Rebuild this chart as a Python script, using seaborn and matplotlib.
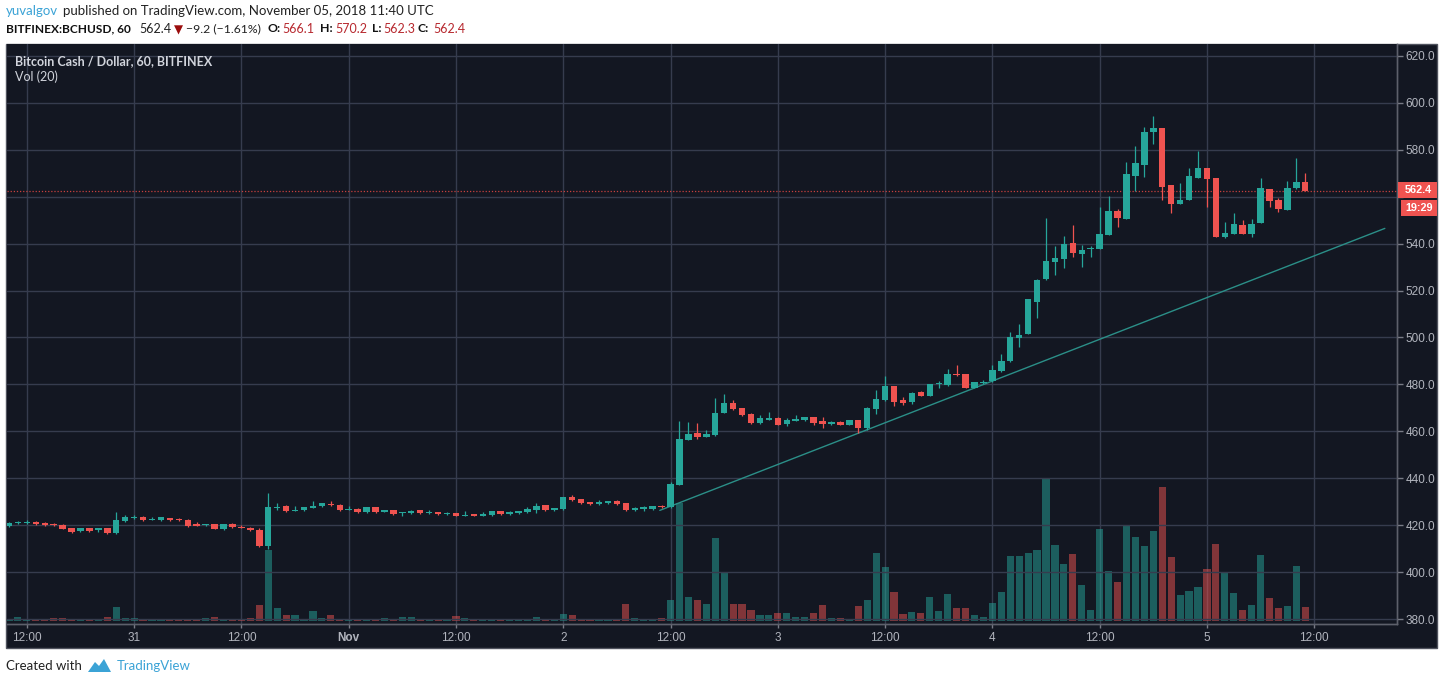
import numpy as np
import pandas as pd
import matplotlib
matplotlib.use('Agg')
import matplotlib.pyplot as plt
import seaborn as sns
from matplotlib.patches import Rectangle, Polygon

# Hourly BCH/USD candles on Bitfinex, Oct 30 10:00 -> Nov 5 11:00 UTC
opens = [419.6, 421.0, 420.8, 421.4, 420.8, 420.5, 420.0, 418.6, 417.3, 418.6,
         417.9, 418.6, 416.6, 421.7, 423.0, 423.6, 422.3, 422.1, 423.0, 422.7,
         422.4, 420.5, 420.0, 420.4, 418.3, 420.4, 419.4, 419.0, 418.1, 411.0,
         427.4, 428.1, 426.2, 426.4, 427.4, 428.1, 429.2, 428.8, 426.4, 427.1,
         425.5, 427.7, 425.7, 426.4, 425.0, 425.2, 426.4, 425.1, 425.5, 424.7,
         425.1, 424.1, 424.7, 424.1, 424.3, 426.0, 424.7, 425.1, 425.5, 426.4,
         428.5, 426.4, 426.8, 431.9, 431.1, 429.8, 428.9, 429.4, 430.2, 429.4,
         426.4, 426.8, 426.8, 428.3, 427.7, 437.1, 456.3, 459.3, 457.7, 458.4,
         467.8, 472.0, 469.9, 467.4, 463.5, 465.1, 465.7, 463.1, 464.5, 464.8,
         466.1, 464.4, 463.1, 464.0, 462.7, 464.8, 461.5, 469.5, 473.3, 479.3,
         473.5, 472.3, 476.8, 475.1, 480.1, 479.6, 484.6, 484.3, 478.5, 480.8,
         481.3, 485.7, 489.9, 499.8, 501.6, 515.2, 524.8, 532.2, 533.3, 540.4,
         535.5, 537.6, 537.8, 543.8, 554.1, 550.6, 568.8, 573.6, 587.5, 589.1,
         564.9, 557.0, 558.7, 568.0, 572.2, 567.9, 542.9, 544.2, 548.0, 544.2,
         548.9, 563.2, 558.7, 554.4, 563.6, 566.1]
highs = [421.3, 421.7, 422.0, 421.8, 421.2, 421.0, 420.3, 418.8, 418.8, 418.9,
         418.8, 418.8, 425.5, 424.3, 424.3, 424.0, 423.4, 423.6, 423.2, 423.1,
         422.7, 421.3, 420.7, 420.6, 420.6, 420.8, 419.9, 419.4, 418.8, 433.6,
         429.4, 428.4, 428.1, 427.9, 430.2, 429.6, 430.2, 429.0, 428.0, 427.3,
         427.9, 427.9, 426.6, 426.6, 425.7, 426.4, 426.6, 426.4, 425.7, 425.5,
         425.3, 426.0, 424.9, 425.5, 426.2, 426.2, 426.0, 426.2, 427.7, 429.4,
         428.7, 427.4, 432.1, 432.8, 431.3, 430.0, 430.6, 430.4, 430.9, 429.6,
         427.7, 428.1, 428.3, 428.6, 438.4, 464.4, 464.0, 463.7, 460.4, 474.3,
         476.0, 473.2, 470.1, 467.6, 466.9, 468.2, 465.9, 465.6, 466.9, 466.3,
         466.3, 466.1, 464.2, 464.4, 465.0, 465.0, 470.3, 477.6, 483.6, 479.5,
         474.6, 476.7, 477.0, 480.3, 481.3, 486.4, 488.2, 484.5, 481.1, 481.9,
         488.2, 492.8, 502.2, 505.9, 516.5, 524.9, 550.9, 538.9, 543.1, 547.8,
         539.3, 538.9, 555.5, 560.2, 554.8, 575.0, 581.8, 589.9, 594.2, 589.3,
         565.1, 565.8, 572.2, 579.4, 572.4, 568.1, 549.3, 553.1, 550.1, 550.6,
         567.9, 563.4, 559.5, 566.5, 576.6, 570.2]
lows = [419.4, 420.3, 420.6, 420.2, 419.8, 419.8, 418.2, 416.8, 417.1, 417.2,
        417.0, 416.4, 416.4, 421.3, 422.6, 421.9, 422.1, 421.9, 421.9, 421.8,
        419.4, 419.5, 419.8, 418.2, 418.1, 418.9, 418.7, 417.7, 410.8, 409.9,
        426.4, 425.8, 426.0, 426.2, 427.2, 427.9, 428.3, 426.2, 426.3, 425.3,
        425.3, 425.3, 425.5, 424.5, 423.8, 424.8, 424.9, 424.9, 424.5, 424.5,
        423.9, 423.9, 423.9, 423.9, 424.1, 424.5, 424.5, 424.9, 425.1, 425.1,
        426.2, 426.2, 426.6, 430.2, 429.2, 428.7, 428.7, 429.2, 428.7, 426.0,
        426.2, 426.2, 426.6, 427.4, 427.4, 437.1, 456.1, 456.6, 457.5, 458.2,
        467.6, 469.0, 466.5, 463.3, 463.3, 464.8, 462.5, 462.3, 464.3, 464.6,
        462.7, 461.5, 462.9, 462.5, 462.5, 459.4, 460.6, 467.5, 473.1, 470.8,
        471.2, 471.8, 474.9, 474.9, 478.6, 479.4, 483.5, 478.3, 478.3, 480.0,
        481.1, 485.5, 489.7, 496.0, 501.4, 508.3, 524.6, 526.8, 529.5, 534.2,
        530.1, 534.3, 537.6, 543.6, 547.0, 550.4, 562.6, 568.3, 582.5, 558.8,
        553.1, 556.8, 558.5, 567.8, 555.5, 542.7, 542.3, 544.0, 544.0, 543.0,
        548.7, 555.5, 553.4, 554.2, 563.4, 562.3]
closes = [421.1, 421.3, 421.4, 420.4, 420.0, 420.0, 418.4, 417.0, 418.6, 417.4,
          418.6, 416.6, 422.0, 423.4, 423.3, 422.1, 422.8, 423.4, 422.1, 422.0,
          419.6, 419.7, 420.5, 418.4, 420.4, 419.1, 418.9, 417.9, 411.0, 427.7,
          427.7, 426.0, 426.6, 427.7, 428.1, 429.4, 428.5, 426.4, 426.7, 425.5,
          427.7, 425.5, 426.4, 424.7, 425.5, 426.2, 425.1, 425.7, 424.7, 425.1,
          424.1, 424.5, 424.1, 424.7, 426.0, 424.7, 425.5, 426.0, 426.8, 428.1,
          426.4, 427.2, 431.9, 430.6, 429.4, 428.9, 429.8, 430.2, 428.9, 426.4,
          427.2, 427.7, 428.1, 427.7, 437.4, 456.6, 458.7, 457.7, 458.7, 467.8,
          472.0, 469.6, 466.9, 463.5, 465.7, 465.4, 462.7, 464.8, 465.2, 466.1,
          463.5, 463.1, 464.0, 462.7, 464.8, 461.5, 469.9, 473.8, 479.3, 472.5,
          472.0, 476.5, 475.1, 480.1, 480.5, 484.6, 484.1, 478.5, 480.9, 481.2,
          486.0, 490.1, 500.1, 501.2, 516.3, 524.7, 532.5, 533.8, 540.0, 536.0,
          537.4, 537.9, 544.2, 554.1, 551.0, 569.5, 574.3, 587.8, 589.1, 564.1,
          557.0, 558.8, 569.0, 572.2, 567.5, 542.9, 544.6, 548.4, 544.2, 548.4,
          563.6, 558.1, 554.8, 563.6, 566.2, 562.4]
# volume has no scale on the chart: values are bar heights in screen pixels
volumes = [1.7, 3.7, 1.7, 0.7, 0.7, 2.7, 2.7, 0.7, 0.7, 0.3,
           0.7, 3.7, 13.7, 2.7, 2.7, 1.7, 0.7, 0.7, 0.7, 0.7,
           1.7, 0.7, 2.7, 3.7, 0.7, 1.7, 0.7, 2.7, 15.7, 70.7,
           12.7, 5.7, 5.7, 1.7, 9.7, 2.7, 5.7, 1.0, 1.7, 0.7,
           0.7, 0.7, 2.7, 0.7, 3.7, 3.7, 1.7, 1.7, 0.3, 0.3,
           4.7, 2.7, 0.7, 1.7, 0.7, 1.7, 0.3, 1.7, 1.7, 3.7,
           0.7, 0.7, 6.7, 5.7, 0.7, 1.7, 1.7, 0.3, 1.7, 16.7,
           2.7, 0.7, 0.3, 2.5, 20.7, 117.3, 23.3, 20.7, 16.3, 82.3,
           47.3, 16.3, 16.3, 10.7, 5.3, 5.3, 7.3, 7.3, 3.3, 3.3,
           7.3, 15.3, 2.3, 2.3, 0.7, 14.3, 20.7, 67.3, 54.0, 28.3,
           6.3, 8.3, 7.3, 23.3, 9.3, 26.3, 12.3, 12.3, 5.3, 3.3,
           17.3, 28.3, 64.3, 64.3, 67.3, 70.3, 142.7, 75.3, 56.3, 66.3,
           35.3, 10.2, 91.4, 49.2, 38.2, 94.4, 83.4, 74.3, 89.4, 133.2,
           63.3, 26.1, 30.1, 34.1, 51.2, 76.3, 47.2, 28.1, 11.0, 16.1,
           65.3, 23.1, 13.1, 15.1, 54.2, 14.1]

# drawn trend line (candle index, price)
trend_x = [72.8, 153.9]
trend_y = [426.3, 546.5]

price_ticks = [380, 400, 420, 440, 460, 480, 500, 520, 540, 560, 580, 600, 620]

BG = '#131722'
GRID = '#363c4e'
UP = '#26a69a'
DOWN = '#ef5350'
TXT = '#b2b5be'
BLUE = '#3ba3d6'
VALRED = '#b7282e'

W, H = 1444, 684
def fx(x):
    return x / W
def fy(y):
    return 1 - y / H

sns.set_theme(style='dark', rc={'axes.facecolor': BG, 'figure.facecolor': 'white'})
plt.rcParams['font.family'] = ['Liberation Sans Narrow', 'Liberation Sans', 'DejaVu Sans']
HFONT = ['Lato', 'DejaVu Sans']

times = pd.date_range('2018-10-30 10:00', periods=len(opens), freq='h')
df = pd.DataFrame({'pos': np.arange(len(opens)), 'open': opens, 'high': highs,
                   'low': lows, 'close': closes, 'volume': volumes})
df['direction'] = np.where(df['close'] >= df['open'], 'up', 'down')
df['color'] = np.where(df['direction'] == 'up', UP, DOWN)

fig = plt.figure(figsize=(W / 100, H / 100), dpi=100)

# dark chart panel (behind the axes)
fig.patches.append(Rectangle((fx(6), fy(648)), fx(1437) - fx(6), fy(44) - fy(648),
                             transform=fig.transFigure, facecolor=BG,
                             edgecolor='#50535e', lw=1, zorder=-5))

ax = fig.add_axes([fx(7), fy(624), fx(1397) - fx(7), fy(44) - fy(624)])
ax.set_facecolor(BG)

# volume histogram (bottom layer)
sns.barplot(data=df, x='pos', y='volume', hue='direction',
            palette={'up': UP, 'down': DOWN}, native_scale=True, width=0.8,
            dodge=False, legend=False, errorbar=None, saturation=1,
            alpha=0.5, linewidth=0, ax=ax)
ax.set_ylim(-3.3, 576.7)
ax.set_yticks([])
ax.set_xlabel('')
ax.set_ylabel('')

# time axis: every 12 hours
tick_pos = list(range(2, 155, 12))
tick_times = pd.date_range(times[2], periods=len(tick_pos), freq='12h')
tick_labels = []
for t in tick_times:
    if t.hour == 12:
        tick_labels.append('12:00')
    elif t.day == 1:
        tick_labels.append(t.strftime('%b'))
    else:
        tick_labels.append(str(t.day))
ax.set_xticks(tick_pos)
ax.set_xticklabels(tick_labels)
for lab in ax.get_xticklabels():
    lab.set_color(TXT)
    lab.set_fontsize(8.5)
    if lab.get_text() == 'Nov':
        lab.set_fontweight('bold')
ax.tick_params(axis='x', length=3, width=1, color='#787b86', pad=3, bottom=True)
ax.xaxis.grid(True, color=GRID, lw=1)
ax.set_xlim(-0.22, 155.26)

# price axis on top; the 560 label sits under the last-price tag
axp = ax.twinx()
axp.set_ylim(377.87, 625.1)
axp.set_yticks(price_ticks)
axp.set_yticklabels(['' if v == 560 else f'{v:.1f}' for v in price_ticks])
axp.tick_params(axis='y', length=4, width=1, color='#787b86', labelcolor=TXT,
                labelsize=8.5, pad=2, right=True)
axp.yaxis.grid(True, color=GRID, lw=1)
axp.set_axisbelow(True)

for a in (ax, axp):
    for s in a.spines.values():
        s.set_color('#5d606b')
        s.set_linewidth(1)
    a.spines['top'].set_visible(False)
    a.spines['left'].set_visible(False)

# candles
body_lo = np.minimum(df['open'], df['close'])
body_h = np.abs(df['close'] - df['open'])
small = body_h < 0.45
body_lo = np.where(small, (df['open'] + df['close']) / 2 - 0.225, body_lo)
body_h = np.where(small, 0.45, body_h)
axp.vlines(df['pos'], df['low'], df['high'], colors=df['color'], lw=0.9, zorder=3)
axp.bar(df['pos'], body_h, bottom=body_lo, width=0.72, color=df['color'],
        linewidth=0, zorder=4)

# trend line and last price line
sns.lineplot(x=trend_x, y=trend_y, ax=axp, color='#2b8f88', lw=1, zorder=2)
axp.axhline(closes[-1], color='#c8403d', ls=(0, (1, 1.5)), lw=0.9, zorder=2)

# last price labels on the price scale
fig.patches.append(Rectangle((fx(1398), fy(198)), fx(1437) - fx(1398), fy(182) - fy(198),
                             transform=fig.transFigure, facecolor=DOWN, lw=0, zorder=5))
fig.text(fx(1418), fy(190), f'{closes[-1]:.1f}', color='white', fontsize=7.8,
         fontweight='bold', ha='center', va='center', zorder=6)
fig.patches.append(Rectangle((fx(1401), fy(216)), fx(1437) - fx(1401), fy(200) - fy(216),
                             transform=fig.transFigure, facecolor=DOWN, lw=0, zorder=5))
fig.text(fx(1419), fy(208), '19:29', color='white', fontsize=7.8,
         fontweight='bold', ha='center', va='center', zorder=6)

# legend texts inside the chart
fig.text(fx(15), fy(61), 'Bitcoin Cash / Dollar, 60, BITFINEX', color='#d1d4dc',
         fontsize=9, fontweight='bold', family=HFONT, ha='left', va='center')
fig.text(fx(15), fy(77), 'Vol (20)', color='#d1d4dc', fontsize=9,
         family=HFONT, ha='left', va='center')

# header
fig.text(fx(6), fy(11), 'yuvalgov', color=BLUE, fontsize=9.5, family=HFONT,
         ha='left', va='center')
fig.text(fx(63), fy(11), 'published on TradingView.com, November 05, 2018 11:40 UTC',
         color='#222222', fontsize=9.5, family=HFONT, ha='left', va='center')
fig.text(fx(6), fy(29), 'BITFINEX:BCHUSD, 60', color='#111111', fontsize=8.6,
         fontweight='bold', family=HFONT, ha='left', va='center')
fig.text(fx(139), fy(29), '562.4', color='#222222', fontsize=9, family=HFONT,
         ha='left', va='center')
fig.text(fx(178.5), fy(30), '▼', color='#9b0d0d', fontsize=8.5, family=['DejaVu Sans'],
         ha='center', va='center')
fig.text(fx(186), fy(29), '\u22129.2 (\u22121.61%)', color='#222222', fontsize=8.8,
         family=HFONT, ha='left', va='center')
for lx, lab, vx, val in [(268, 'O:', 282, '566.1'), (320, 'H:', 335, '570.2'),
                         (372, 'L:', 383, '562.3'), (418, 'C:', 433, '562.4')]:
    fig.text(fx(lx), fy(29), lab, color='#111111', fontsize=8.8, fontweight='bold',
             family=HFONT, ha='left', va='center')
    fig.text(fx(vx), fy(29), val, color=VALRED, fontsize=9, family=HFONT,
             ha='left', va='center')

# footer
fig.text(fx(6), fy(666), 'Created with', color='#222222', fontsize=9.5,
         family=HFONT, ha='left', va='center')
logo = [(88, 672), (95, 662), (99, 666), (104, 659), (111, 672)]
fig.patches.append(Polygon([(fx(x), fy(y)) for x, y in logo], closed=True,
                           transform=fig.transFigure, facecolor=BLUE, lw=0))
fig.text(fx(117), fy(666), 'TradingView', color=BLUE, fontsize=9.5,
         family=HFONT, ha='left', va='center')

fig.savefig('out.png', dpi=100)
